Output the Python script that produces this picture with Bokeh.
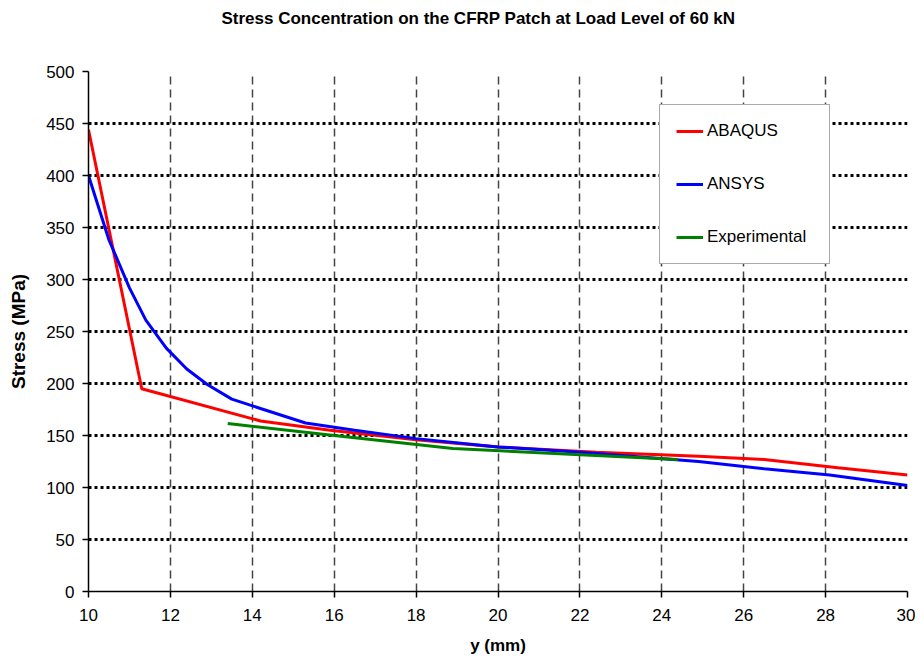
from bokeh.plotting import figure
from bokeh.models import Range1d, FixedTicker, Legend, LegendItem, Title
from bokeh.embed import file_html
from bokeh.resources import INLINE

# Data
abaqus_x = [10.0, 11.3, 14.2, 15.9, 18.0, 20.0, 22.4, 24.9, 26.5, 28.3, 30.0]
abaqus_y = [444, 195, 164, 155, 146, 139, 134, 130, 127, 119, 112]

ansys_x = [10.0, 10.5, 11.0, 11.4, 11.9, 12.4, 12.9, 13.5, 14.2, 15.3, 16.5, 18.0, 20.0, 22.0, 24.9, 26.5, 28.1, 30.0]
ansys_y = [400, 338, 292, 261, 234, 214, 199, 185, 176, 162, 155, 147, 139, 134, 125, 118, 112, 102]

exp_x = [13.4, 16.0, 18.9, 24.4]
exp_y = [161.5, 150, 137.5, 127]

x_ticks = [10, 12, 14, 16, 18, 20, 22, 24, 26, 28, 30]
y_ticks = [0, 50, 100, 150, 200, 250, 300, 350, 400, 450, 500]

FONT = "Liberation Sans"

p = figure(width=915, height=660, x_range=Range1d(10, 30), y_range=Range1d(0, 500),
           output_backend="svg", toolbar_location=None,
           min_border_left=88, min_border_right=8, min_border_top=0, min_border_bottom=69)

p.outline_line_color = None
p.background_fill_color = "white"
p.border_fill_color = "white"

# spacer between title and frame
p.add_layout(Title(text=" ", text_font=FONT, text_font_size="17px", standoff=16), "above")

p.title.text = "Stress Concentration on the CFRP Patch at Load Level of 60 kN"
p.title.text_font = FONT
p.title.text_font_style = "bold"
p.title.text_font_size = "17px"
p.title.text_color = "black"
p.title.align = "left"
p.title.offset = 133
p.title.standoff = 13

p.xaxis.ticker = FixedTicker(ticks=x_ticks)
p.yaxis.ticker = FixedTicker(ticks=y_ticks)
for ax in (p.xaxis, p.yaxis):
    ax.axis_line_color = "black"
    ax.axis_line_width = 1.5
    ax.major_tick_line_color = "black"
    ax.major_tick_line_width = 1.5
    ax.major_tick_out = 6
    ax.major_tick_in = 0
    ax.minor_tick_line_color = None
    ax.major_label_text_font = FONT
    ax.major_label_text_font_size = "17px"
    ax.major_label_text_color = "black"
    ax.axis_label_text_font = FONT
    ax.axis_label_text_font_style = "bold"
    ax.axis_label_text_color = "black"

p.xaxis.axis_label = "y (mm)"
p.yaxis.axis_label = "Stress (MPa)"
p.xaxis.axis_label_text_font_size = "17px"
p.yaxis.axis_label_text_font_size = "19px"
p.xaxis.major_label_standoff = 11
p.xaxis.axis_label_standoff = 12
p.yaxis.major_label_standoff = 8
p.yaxis.axis_label_standoff = 14

p.xgrid.ticker = FixedTicker(ticks=x_ticks[1:])
p.ygrid.ticker = FixedTicker(ticks=y_ticks[1:])
p.xgrid.grid_line_color = "#444444"
p.xgrid.grid_line_width = 1.5
p.xgrid.grid_line_dash = "8 5"
p.ygrid.grid_line_color = "black"
p.ygrid.grid_line_width = 3
p.ygrid.grid_line_dash = "3 3"

r1 = p.line(abaqus_x, abaqus_y, line_color="#FF0000", line_width=3)
r2 = p.line(ansys_x, ansys_y, line_color="#0000FF", line_width=3)
r3 = p.line(exp_x, exp_y, line_color="#008000", line_width=3)

legend = Legend(items=[LegendItem(label="ABAQUS", renderers=[r1]),
                       LegendItem(label="ANSYS", renderers=[r2]),
                       LegendItem(label="Experimental", renderers=[r3])],
                location=(571, 327))
legend.padding = 16
legend.spacing = 33
legend.glyph_height = 20
legend.label_height = 20
legend.glyph_width = 27
legend.label_standoff = 4
legend.label_width = 106
legend.margin = 0
legend.label_text_font = FONT
legend.label_text_font_size = "17px"
legend.label_text_color = "black"
legend.border_line_color = "#555555"
legend.border_line_width = 1
legend.background_fill_color = "white"
legend.background_fill_alpha = 1.0
p.add_layout(legend)

open("out.html", "w").write(file_html(p, INLINE))
